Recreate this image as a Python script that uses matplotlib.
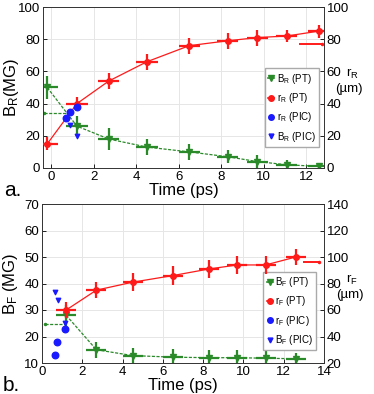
import numpy as np
import matplotlib
matplotlib.use("Agg")
import matplotlib.pyplot as plt
from matplotlib.lines import Line2D

plt.rcParams['font.family'] = ['Liberation Sans', 'DejaVu Sans']
plt.rcParams['mathtext.default'] = 'regular'

# panel a data
t_a = [-0.2, 1.2, 2.7, 4.5, 6.5, 8.3, 9.7, 11.1, 12.6]
BR_pt = [50, 26, 18, 13, 10, 7, 4, 2, 1]
BR_err = [7, 6, 7, 5, 5, 4, 4, 3, 1]
rR_pt = [15, 40, 54, 66, 76, 79, 81, 82, 85]
rR_err = [4, 4, 5, 5, 5, 5, 5, 4, 4]
t_err_a = 0.5
rR_pic_t = [0.67, 0.86, 1.22]
rR_pic = [31, 34.5, 37.6]
BR_pic_t = [0.86, 1.2]
BR_pic = [26.5, 19.6]
BR_dash = ([-0.35, 0.75], [34, 34])
rR_extra = ([11.7, 12.75], [77, 77])

# panel b data
t_b = [1.2, 2.7, 4.5, 6.5, 8.3, 9.7, 11.1, 12.6]
BF_pt = [28, 15, 12.8, 12.2, 12, 12, 11.8, 11.6]
BF_err = [4, 3, 3, 3, 3, 3, 3, 2]
rF_pt = [60, 75, 81, 86, 91, 94, 94, 100]
rF_err = [6, 6, 7, 7, 7, 7, 7, 6]
t_err_b = 0.5
rF_pic_t = [0.63, 0.76, 1.16]
rF_pic = [26, 36, 46]
BF_pic_t = [0.63, 0.81, 1.14]
BF_pic = [36.9, 33.8, 25]
BF_dash = ([0.15, 1.2], [24.7, 24.7])
rF_extra = ([13.0, 13.75], [96.6, 96.6])

GREEN = '#2a8a2a'
RED = '#ff1a1a'
BLUE = '#1a1aff'
DASH = (0, (2.5, 1.2))

fig = plt.figure(figsize=(3.74, 3.94), dpi=100)
ax1 = fig.add_axes([43/374, 1-168/394, 281/374, 161/394])
ax2 = fig.add_axes([42/374, 1-363/394, 282/374, 159/394])


def panel(ax, t, B, Berr, r, rerr, terr, rpt, rpv, bpt, bpv, dash, extra,
          xlim, ylim, rlim, sub, ylab, xticks, yticks, rticks, letter, legpos, rlab_y):
    ax.grid(True, color='#e6e6e6', lw=0.7)
    ax.set_axisbelow(True)
    axr = ax.twinx()
    # PT fields
    ax.errorbar(t, B, yerr=Berr, xerr=terr, color=GREEN, ls=DASH, lw=0.9,
                elinewidth=1.6, marker='v', ms=4, capsize=0, zorder=3)
    ax.plot(dash[0], dash[1], color=GREEN, ls=DASH, lw=0.9, marker='.', ms=3,
            markevery=[0])
    ax.scatter(bpt, bpv, marker='v', s=10, color=BLUE, zorder=4)
    # radii
    axr.errorbar(t, r, yerr=rerr, xerr=terr, color=RED, ls='-', lw=0.9,
                 elinewidth=1.6, marker='o', ms=4, capsize=0, zorder=3)
    axr.plot(extra[0], extra[1], color=RED, lw=1.4, marker='.', ms=3, markevery=[1])
    axr.scatter(rpt, rpv, marker='o', s=22, color=BLUE, zorder=4)

    ax.set_xlim(*xlim)
    ax.set_ylim(*ylim)
    axr.set_ylim(*rlim)
    ax.set_xticks(xticks)
    ax.set_yticks(yticks)
    axr.set_yticks(rticks)
    for a in (ax, axr):
        a.tick_params(labelsize=9.5, direction='in', length=3, width=0.6, pad=2)
        for s in a.spines.values():
            s.set_linewidth(0.6)
            s.set_color('#333333')
    ax.set_xlabel('Time (ps)', fontsize=12, labelpad=0)
    ax.set_ylabel(ylab, fontsize=12)
    ax.yaxis.set_label_coords(-0.078, 0.5)
    ax.text(1.1, rlab_y, 'r$_{%s}$' % sub, transform=ax.transAxes, fontsize=9.5,
            ha='center', va='center')
    ax.text(1.09, rlab_y - 0.095, '(µm)', transform=ax.transAxes, fontsize=9.5,
            ha='center', va='center')
    ax.text(-0.138, -0.2, letter, transform=ax.transAxes, fontsize=15,
            ha='left', va='bottom')
    handles = [
        Line2D([], [], color=GREEN, marker='v', ms=4, lw=1.2),
        Line2D([], [], color=RED, marker='o', ms=4, lw=1.2),
        Line2D([], [], color=BLUE, marker='o', ms=4, lw=0),
        Line2D([], [], color=BLUE, marker='v', ms=3.5, lw=0),
    ]
    leg = ax.legend(handles,
                    ['B$_{%s}$ (PT)' % sub, 'r$_{%s}$ (PT)' % sub,
                     'r$_{%s}$ (PIC)' % sub, 'B$_{%s}$ (PIC)' % sub],
                    loc='upper left', bbox_to_anchor=legpos, fontsize=7,
                    handlelength=0.6, handletextpad=0.25, borderpad=0.35,
                    labelspacing=0.55, borderaxespad=0, fancybox=False,
                    edgecolor='#aaaaaa', framealpha=1)
    leg.set_zorder(10)
    return axr


panel(ax1, t_a, BR_pt, BR_err, rR_pt, rR_err, t_err_a, rR_pic_t, rR_pic,
      BR_pic_t, BR_pic, BR_dash, rR_extra, (-0.4, 12.85), (0, 100), (0, 100),
      'R', 'B$_R$(MG)', range(0, 13, 2), range(0, 101, 20), range(0, 101, 20), 'a.',
      (0.79, 0.62), 0.585)
panel(ax2, t_b, BF_pt, BF_err, rF_pt, rF_err, t_err_b, rF_pic_t, rF_pic,
      BF_pic_t, BF_pic, BF_dash, rF_extra, (0, 14), (10, 70), (20, 140),
      'F', 'B$_F$ (MG)', range(0, 15, 2), range(10, 71, 10), range(20, 141, 20), 'b.',
      (0.785, 0.575), 0.525)

fig.savefig('out.png', dpi=100)
